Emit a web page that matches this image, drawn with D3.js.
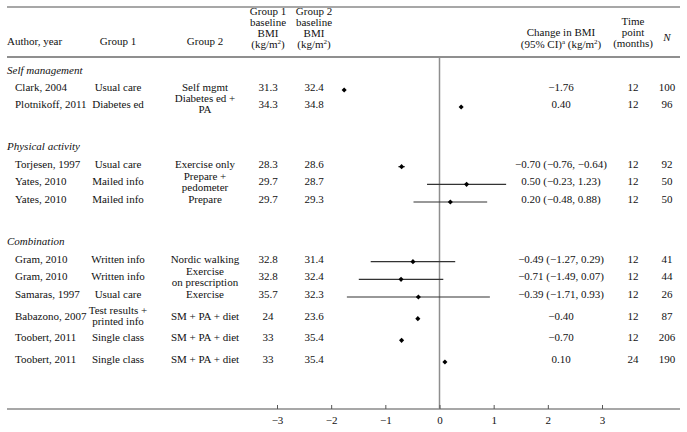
<!DOCTYPE html>
<html>
<head>
<meta charset="utf-8">
<script src="https://cdn.jsdelivr.net/npm/d3@7"></script>
<style>
  body { margin: 0; background: #fff; }
  svg { display: block; }
  text { font-family: "Liberation Serif", "DejaVu Serif", serif; font-size: 11px; fill: #111; }
</style>
</head>
<body>
<svg id="canvas" width="687" height="432"></svg>
<script>
// chart data
let groupNames = ['Self management', 'Physical activity', 'Combination']
let studyGroup = [0, 0, 1, 1, 1, 2, 2, 2, 2, 2, 2]
let authors = ['Clark, 2004', 'Plotnikoff, 2011', 'Torjesen, 1997', 'Yates, 2010', 'Yates, 2010',
  'Gram, 2010', 'Gram, 2010', 'Samaras, 1997', 'Babazono, 2007', 'Toobert, 2011', 'Toobert, 2011']
let group1 = ['Usual care', 'Diabetes ed', 'Usual care', 'Mailed info', 'Mailed info',
  'Written info', 'Written info', 'Usual care', 'Test results +|printed info', 'Single class', 'Single class']
let group2 = ['Self mgmt', 'Diabetes ed +|PA', 'Exercise only', 'Prepare +|pedometer', 'Prepare',
  'Nordic walking', 'Exercise|on prescription', 'Exercise', 'SM + PA + diet', 'SM + PA + diet', 'SM + PA + diet']
let bmi1 = ['31.3', '34.3', '28.3', '29.7', '29.7', '32.8', '32.8', '35.7', '24', '33', '33']
let bmi2 = ['32.4', '34.8', '28.6', '28.7', '29.3', '31.4', '32.4', '32.3', '23.6', '35.4', '35.4']
let change = [-1.76, 0.40, -0.70, 0.50, 0.20, -0.49, -0.71, -0.39, -0.40, -0.70, 0.10]
let ciLow = [null, null, -0.76, -0.23, -0.48, -1.27, -1.49, -1.71, null, null, null]
let ciHigh = [null, null, -0.64, 1.23, 0.88, 0.29, 0.07, 0.93, null, null, null]
let timePoint = [12, 12, 12, 12, 12, 12, 12, 12, 12, 12, 24]
let sampleN = [100, 96, 92, 50, 50, 41, 44, 26, 87, 206, 190]
let xTicks = [-3, -2, -1, 0, 1, 2, 3]

let canvas = d3.select('#canvas')

// column positions
let col = { author: 7, study: 15, g1: 118, g2: 205, b1: 268, b2: 314, change: 561, time: 633, n: 667 }
let ruleLeft = 7, ruleRight = 680
let topRule = 7, headRule = 57, axisY = 409

let x = d3.scaleLinear().domain([-3, 3]).range([277, 602])

// build row slots: group header, its studies, then a blank slot
let rows = []
let slot = 0
groupNames.forEach((g, gi) => {
  rows.push({ type: 'group', label: g, slot: slot++ })
  studyGroup.forEach((sg, i) => {
    if (sg === gi) rows.push({ type: 'study', i: i, slot: slot++ })
  })
  slot++
})

// the figure spaces its rows a little unevenly, so a polylinear scale
let y = d3.scaleLinear()
  .domain([0, 2, 4, 7, 9, 12, 15])
  .range([70, 104, 146, 199, 241, 294, 359])

let fmt = d3.format('.2f')
let changeLabel = (i) => {
  let s = fmt(change[i])
  if (ciLow[i] !== null) s += ' (' + fmt(ciLow[i]) + ', ' + fmt(ciHigh[i]) + ')'
  return s
}

// rules
canvas.append('line').attr('x1', ruleLeft).attr('x2', ruleRight).attr('y1', topRule).attr('y2', topRule)
  .attr('stroke', '#8a8a8a').attr('stroke-width', 1.5)
canvas.append('line').attr('x1', ruleLeft).attr('x2', ruleRight).attr('y1', headRule).attr('y2', headRule)
  .attr('stroke', '#6a6a6a').attr('stroke-width', 1.5)
canvas.append('line').attr('x1', ruleLeft).attr('x2', ruleRight).attr('y1', axisY).attr('y2', axisY)
  .attr('stroke', '#8a8a8a').attr('stroke-width', 1.5)

// zero line
canvas.append('line').attr('x1', x(0)).attr('x2', x(0)).attr('y1', headRule).attr('y2', axisY)
  .attr('stroke', '#8e8e8e').attr('stroke-width', 1.5)

// header
let header = canvas.append('g')
let headText = (xx, yy, anchor, txt) => header.append('text')
  .attr('x', xx).attr('y', yy).attr('text-anchor', anchor).attr('dy', '0.35em').text(txt)

headText(col.author, 41, 'start', 'Author, year')
headText(col.g1, 41, 'middle', 'Group 1')
headText(col.g2, 41, 'middle', 'Group 2')
;[['Group 1', col.b1], ['Group 2', col.b2]].forEach(([name, cx]) => {
  headText(cx, 11, 'middle', name)
  headText(cx, 22, 'middle', 'baseline')
  headText(cx, 33, 'middle', 'BMI')
  let t = headText(cx, 44, 'middle', '(kg/m')
  t.append('tspan').attr('baseline-shift', 'super').attr('font-size', '7px').text('2')
  t.append('tspan').text(')')
})
headText(col.change, 32, 'middle', 'Change in BMI')
let ci = headText(col.change, 44, 'middle', '(95% CI)')
ci.append('tspan').attr('baseline-shift', 'super').attr('font-size', '7px').text('a')
ci.append('tspan').text(' (kg/m')
ci.append('tspan').attr('baseline-shift', 'super').attr('font-size', '7px').text('2')
ci.append('tspan').text(')')
headText(col.time, 21, 'middle', 'Time')
headText(col.time, 32, 'middle', 'point')
headText(col.time, 43, 'middle', '(months)')
headText(col.n, 37, 'middle', 'N').attr('font-style', 'italic')

// table body
let body = canvas.append('g')
let cell = (xx, yy, anchor, txt) => {
  let lines = String(txt).split('|')
  let lh = 11
  lines.forEach((ln, k) => {
    body.append('text')
      .attr('x', xx)
      .attr('y', yy + (k - (lines.length - 1) / 2) * lh)
      .attr('dy', '0.35em')
      .attr('text-anchor', anchor)
      .text(ln)
  })
}

rows.forEach((r) => {
  let yy = y(r.slot)
  if (r.type === 'group') {
    body.append('text').attr('x', col.author).attr('y', yy).attr('dy', '0.35em')
      .attr('font-style', 'italic').text(r.label)
    return
  }
  let i = r.i
  cell(col.study, yy, 'start', authors[i])
  cell(col.g1, yy, 'middle', group1[i])
  cell(col.g2, yy, 'middle', group2[i])
  cell(col.b1, yy, 'middle', bmi1[i])
  cell(col.b2, yy, 'middle', bmi2[i])
  cell(col.change, yy, 'middle', changeLabel(i))
  cell(col.time, yy, 'middle', timePoint[i])
  cell(col.n, yy, 'middle', sampleN[i])
})

// forest marks
let studies = rows.filter(r => r.type === 'study')
let marks = canvas.append('g')

marks.selectAll('line.ci')
  .data(studies.filter(r => ciLow[r.i] !== null))
  .enter()
  .append('line')
  .attr('class', 'ci')
  .attr('x1', r => x(ciLow[r.i]))
  .attr('x2', r => x(ciHigh[r.i]))
  .attr('y1', r => y(r.slot) + 3)
  .attr('y2', r => y(r.slot) + 3)
  .attr('stroke', '#333')
  .attr('stroke-width', 1.2)

let diamond = d3.symbol().type(d3.symbolSquare).size(13)
marks.selectAll('path.pt')
  .data(studies)
  .enter()
  .append('path')
  .attr('class', 'pt')
  .attr('d', diamond)
  .attr('transform', r => 'translate(' + x(change[r.i]) + ',' + (y(r.slot) + 3) + ') rotate(45)')
  .attr('fill', '#000')

// x axis, ticks pointing up
let axis = d3.axisBottom(x)
  .tickValues(xTicks)
  .tickFormat(d3.format('d'))
  .tickSizeInner(-4)
  .tickSizeOuter(0)
  .tickPadding(7)

let ax = canvas.append('g')
  .attr('transform', 'translate(0,' + axisY + ')')
  .call(axis)
ax.select('.domain').remove()
ax.selectAll('line').attr('stroke', '#555')
ax.selectAll('text').attr('font-family', '"Liberation Serif", serif').attr('font-size', '11px').attr('fill', '#111')
</script>
</body>
</html>
